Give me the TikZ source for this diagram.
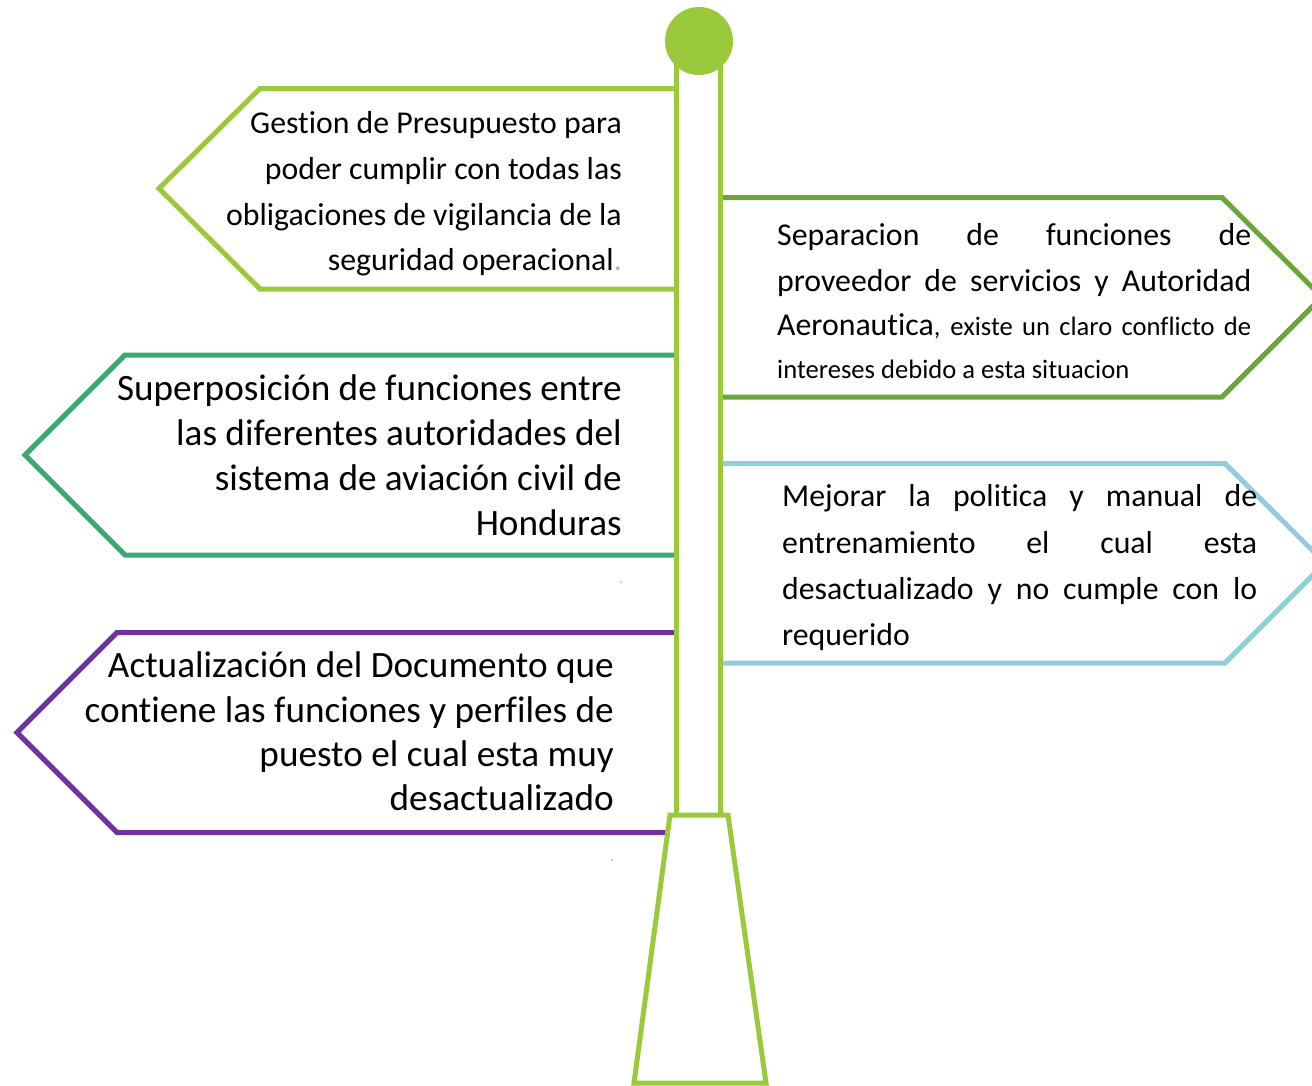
\documentclass[tikz,border=0pt]{standalone}
\usepackage{fontspec}
\setmainfont{Carlito}[Ligatures={NoCommon,NoContextual}]
\definecolor{lime}{HTML}{9ACA3C}
\definecolor{midgreen}{HTML}{6BA63A}
\definecolor{teal}{HTML}{3AA872}
\definecolor{skyblue}{HTML}{92CDDC}
\definecolor{purple}{HTML}{7030A0}
\begin{document}
\begin{tikzpicture}[x=1pt,y=-1pt,
  signedge/.style={line width=5pt, line join=miter},
  poleline/.style={line width=5pt, draw=lime, line join=miter},
  txtA/.style={inner sep=0pt, font=\fontsize{31.8}{38}\selectfont},
  txtB/.style={inner sep=0pt, font=\fontsize{37.2}{44}\selectfont},
  txtS/.style={inner sep=0pt, font=\fontsize{26.6}{32}\selectfont}]
\useasboundingbox (0,0) rectangle (1312,1085);
% sign boards
\draw[signedge, draw=lime] (676,88.5) -- (260,88.5) -- (159,188.5) -- (260,289) -- (676,289);
\draw[signedge, draw=midgreen] (720,197.5) -- (1222,197.5) -- (1322,297) -- (1222,397) -- (720,397);
\draw[signedge, draw=teal] (676,355) -- (125,355) -- (25,455) -- (125,555) -- (676,555);
\draw[signedge, draw=skyblue] (720,463.5) -- (1225,463.5) -- (1325,563) -- (1225,663) -- (720,663);
\draw[signedge, draw=purple] (676,632.5) -- (117,632.5) -- (17,732.5) -- (117,832.5) -- (676,832.5);
% pole
\draw[poleline] (676,41) rectangle (720,815);
\draw[poleline, fill=white] (670,815) -- (728,815) -- (766,1083) -- (634,1083) -- cycle;
\node[circle, fill=lime, inner sep=0pt, minimum size=68pt] (knob) at (699,41) {};
% texts box 1
\node[txtA, anchor=base east] (a1) at (622,133.3) {Gestion de Presupuesto para};
\node[txtA, anchor=base east] (a2) at (622,179.2) {poder cumplir con todas las};
\node[txtA, anchor=base east] (a3) at (622,225) {obligaciones de vigilancia de la};
\node[txtA, anchor=base east] (a4) at (622,270.8) {seguridad operacional{\color{gray!60}.}};
% box 2
\node[txtA, anchor=base west] (b1) at (777,245) {\makebox[474pt][s]{Separacion de funciones de}};
\node[txtA, anchor=base west] (b2) at (777,291.5) {\makebox[474pt][s]{proveedor de servicios y Autoridad}};
\node[txtA, anchor=base west] (b3) at (777,335.5) {\makebox[474pt][s]{Aeronautica{\fontsize{26.6}{32}\selectfont, existe un claro conflicto de}}};
\node[txtS, anchor=base west] (b4) at (777,378) {intereses debido a esta situacion};
% box 3
\node[txtB, anchor=base east] (c1) at (622,400) {Superposición de funciones entre};
\node[txtB, anchor=base east] (c2) at (622,445) {las diferentes autoridades del};
\node[txtB, anchor=base east] (c3) at (622,490) {sistema de aviación civil de};
\node[txtB, anchor=base east] (c4) at (622,535) {Honduras};
% box 4
\node[txtA, anchor=base west] (d1) at (782,506.7) {\makebox[475pt][s]{Mejorar la politica y manual de}};
\node[txtA, anchor=base west] (d2) at (782,553) {\makebox[475pt][s]{entrenamiento el cual esta}};
\node[txtA, anchor=base west] (d3) at (782,599) {\makebox[475pt][s]{desactualizado y no cumple con lo}};
\node[txtA, anchor=base west] (d4) at (782,645) {requerido};
% box 5
\node[txtB, anchor=base east] (e1) at (614,677.5) {Actualización del Documento que};
\node[txtB, anchor=base east] (e2) at (614,722) {contiene las funciones y perfiles de};
\node[txtB, anchor=base east] (e3) at (614,766.5) {puesto el cual esta muy};
\node[txtB, anchor=base east] (e4) at (614,810.5) {desactualizado};
% stray marks
\fill[gray!60] (621,582) circle (1);
\fill[gray!60] (612,860) circle (1);
\end{tikzpicture}
\end{document}
